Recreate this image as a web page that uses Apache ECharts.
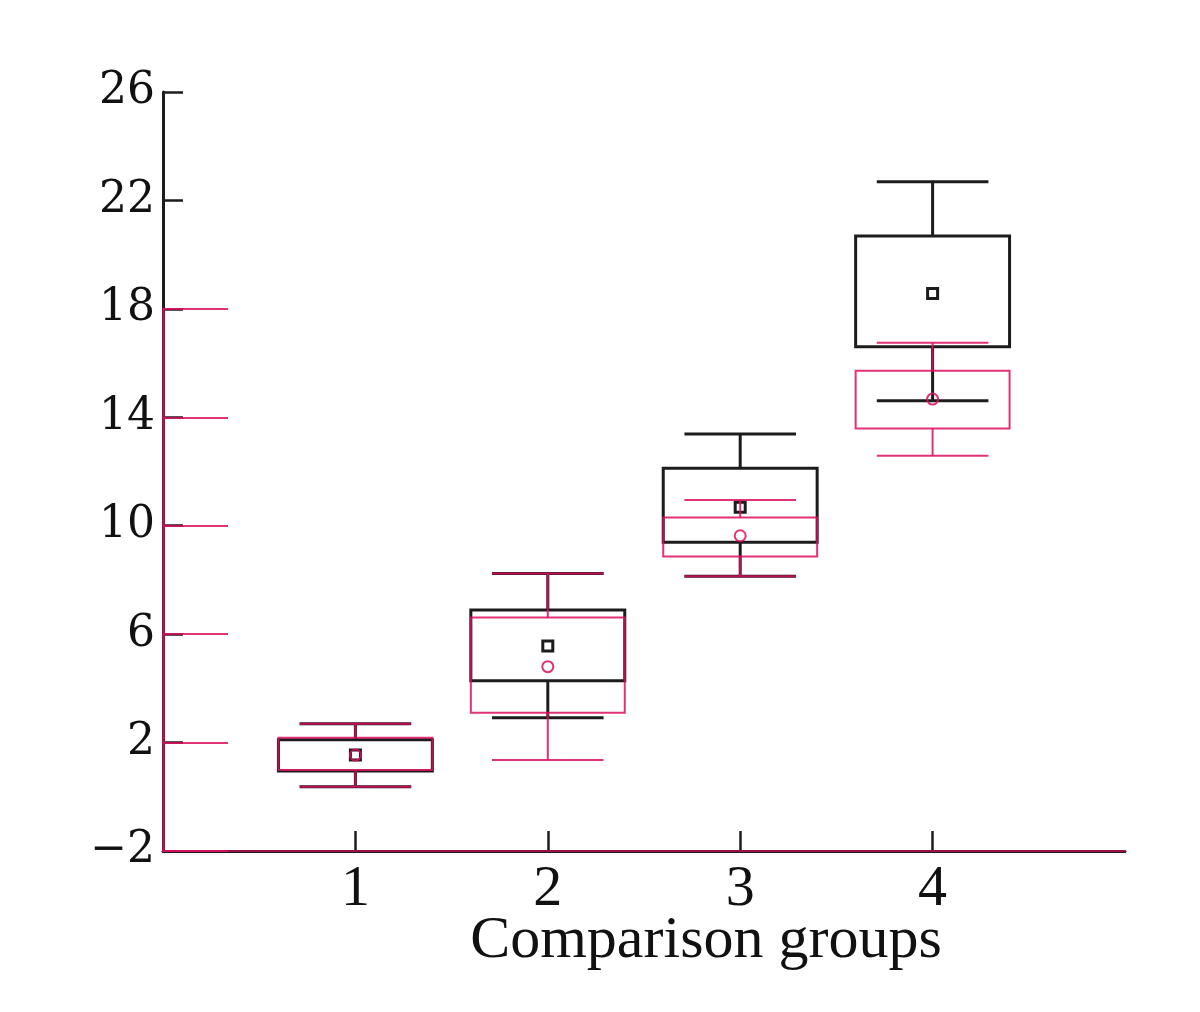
<!DOCTYPE html>
<html>
<head>
<meta charset="utf-8">
<script src="https://cdn.jsdelivr.net/npm/echarts@6/dist/echarts.min.js"></script>
<style>
html,body{margin:0;padding:0;background:#fff;}
#chart{width:1200px;height:1012px;}
</style>
</head>
<body>
<div id="chart"></div>
<script>
// ---- data ----
var groups = [1, 2, 3, 4];
var yTicks = [-2, 2, 6, 10, 14, 18, 22, 26];
var xName = 'Comparison groups';

// black series
var blackWhiskerLow  = [0.37, 2.92, 8.14, 14.61];
var blackBoxLow      = [0.95, 4.28, 9.39, 16.60];
var blackMean        = [1.54, 5.56, 10.68, 18.57];
var blackBoxHigh     = [2.10, 6.89, 12.12, 20.69];
var blackWhiskerHigh = [2.69, 8.24, 13.38, 22.69];

// pink series
var pinkWhiskerLow  = [0.37, 1.36, 8.14, 12.58];
var pinkBoxLow      = [0.99, 3.10, 8.86, 13.59];
var pinkMean        = [1.54, 4.80, 9.63, 14.67];
var pinkBoxHigh     = [2.18, 6.61, 10.30, 15.72];
var pinkWhiskerHigh = [2.69, 8.24, 10.95, 16.75];

var BLACK = '#1c1c1c';
var PINK = 'rgba(220,14,96,0.85)';
var FONT = 'Liberation Serif';

function build(g, wl, bl, m, bh, wh) {
  return g.map(function (x, i) { return [x, wl[i], bl[i], m[i], bh[i], wh[i]]; });
}

function makeRender(color, lw, marker) {
  return function (params, api) {
    var x = api.value(0);
    var pWl = api.coord([x, api.value(1)]);
    var pBl = api.coord([x, api.value(2)]);
    var pM  = api.coord([x, api.value(3)]);
    var pBh = api.coord([x, api.value(4)]);
    var pWh = api.coord([x, api.value(5)]);
    var boxW = api.size([0.8, 0])[0];
    var capW = api.size([0.58, 0])[0];
    var st = { stroke: color, lineWidth: lw, fill: null };
    var ch = [];
    ch.push({ type: 'line', shape: { x1: pWl[0], y1: pWl[1], x2: pBl[0], y2: pBl[1] }, style: st });
    ch.push({ type: 'line', shape: { x1: pBh[0], y1: pBh[1], x2: pWh[0], y2: pWh[1] }, style: st });
    ch.push({ type: 'line', shape: { x1: pWl[0] - capW / 2, y1: pWl[1], x2: pWl[0] + capW / 2, y2: pWl[1] }, style: st });
    ch.push({ type: 'line', shape: { x1: pWh[0] - capW / 2, y1: pWh[1], x2: pWh[0] + capW / 2, y2: pWh[1] }, style: st });
    ch.push({ type: 'rect', shape: { x: pBh[0] - boxW / 2, y: pBh[1], width: boxW, height: pBl[1] - pBh[1] }, style: { stroke: color, lineWidth: lw, fill: null } });
    if (marker === 'square') {
      ch.push({ type: 'rect', shape: { x: pM[0] - 5, y: pM[1] - 5, width: 10, height: 10 }, style: { stroke: color, lineWidth: lw, fill: '#fff' } });
    } else {
      ch.push({ type: 'circle', shape: { cx: pM[0], cy: pM[1], r: 5.5 }, style: { stroke: color, lineWidth: lw, fill: null } });
    }
    return { type: 'group', children: ch };
  };
}

var chart = echarts.init(document.getElementById('chart'), null, { renderer: 'canvas' });
chart.setOption({
  animation: false,
  backgroundColor: '#fff',
  grid: [
    { left: 163, right: 75, top: 92, bottom: 161 },
    { left: 163, right: 75, top: 309, bottom: 161 }
  ],
  xAxis: [
    {
      type: 'value', gridIndex: 0, min: 0, max: 5, interval: 1, z: 1,
      name: xName, nameLocation: 'middle', nameGap: 60, nameMoveOverlap: false,
      nameTextStyle: { fontFamily: FONT, fontSize: 60, color: '#111', padding: [0, 0, 0, 124] },
      axisLine: { show: true, onZero: false, lineStyle: { color: BLACK, width: 3 } },
      axisTick: { show: true, inside: true, length: 20, customValues: groups, lineStyle: { color: BLACK, width: 2.5 } },
      axisLabel: { show: true, customValues: groups, margin: 10, fontFamily: FONT, fontSize: 58, color: '#111' },
      splitLine: { show: false }
    },
    {
      type: 'value', gridIndex: 1, min: 0, max: 5, interval: 1, z: 2,
      axisLine: { show: true, onZero: false, lineStyle: { color: PINK, width: 2, opacity: 0.75 } },
      axisTick: { show: false }, axisLabel: { show: false }, splitLine: { show: false }
    }
  ],
  yAxis: [
    {
      type: 'value', gridIndex: 0, min: -2, max: 26, interval: 4, z: 1,
      axisLine: { show: true, onZero: false, lineStyle: { color: BLACK, width: 3 } },
      axisTick: { show: true, inside: true, length: 20, lineStyle: { color: BLACK, width: 2.5 } },
      axisLabel: { show: true, margin: 8, fontFamily: 'DejaVu Serif', fontSize: 44, color: '#111',
        formatter: function (v) { return v < 0 ? '\u2212' + Math.abs(v) : String(v); } },
      splitLine: { show: false }
    },
    {
      type: 'value', gridIndex: 1, min: -2, max: 18, interval: 4, z: 2,
      axisLine: { show: true, onZero: false, lineStyle: { color: PINK, width: 2.5 } },
      axisTick: { show: true, inside: true, length: 65, lineStyle: { color: PINK, width: 2 } },
      axisLabel: { show: false }, splitLine: { show: false }
    }
  ],
  series: [
    {
      name: 'Black', type: 'custom', xAxisIndex: 0, yAxisIndex: 0, z: 3,
      renderItem: makeRender(BLACK, 3, 'square'),
      encode: { x: 0, y: [1, 2, 3, 4, 5] },
      data: build(groups, blackWhiskerLow, blackBoxLow, blackMean, blackBoxHigh, blackWhiskerHigh)
    },
    {
      name: 'Pink', type: 'custom', xAxisIndex: 0, yAxisIndex: 0, z: 4,
      renderItem: makeRender(PINK, 2, 'circle'),
      encode: { x: 0, y: [1, 2, 3, 4, 5] },
      data: build(groups, pinkWhiskerLow, pinkBoxLow, pinkMean, pinkBoxHigh, pinkWhiskerHigh)
    }
  ]
});
</script>
</body>
</html>
